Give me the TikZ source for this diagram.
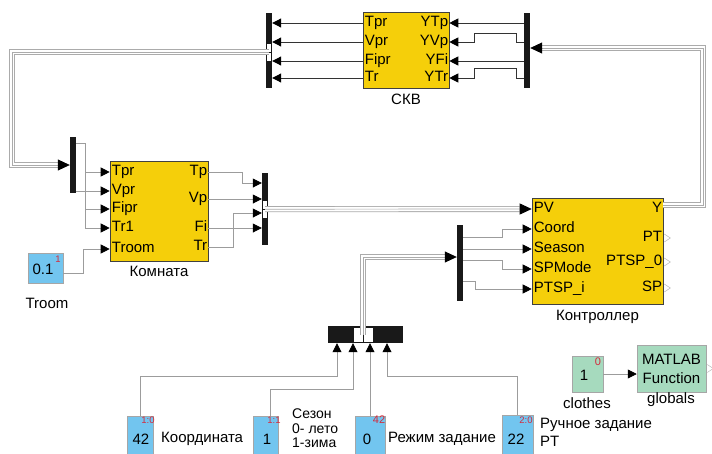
\documentclass[tikz,border=0pt]{standalone}
\usepackage{fontspec}
\setmainfont{Liberation Sans}
\usetikzlibrary{arrows.meta,calc}
\definecolor{SLYellow}{HTML}{F5CF0A}
\definecolor{SLBlue}{HTML}{72C5EF}
\definecolor{SLGreen}{HTML}{A6DABE}
\definecolor{Wire}{HTML}{9C9C9C}
\definecolor{BusGrey}{HTML}{ABABAB}
\definecolor{Tag}{HTML}{D42A3C}
\newcommand{\PortFont}{\fontsize{15}{18}\selectfont}
\newcommand{\TagFont}{\fontsize{9.5}{10}\selectfont}
\tikzset{
  blk/.style={draw=black!75, line width=0.6pt, fill=SLYellow, inner sep=0pt},
  cst/.style={draw=gray!70, line width=0.5pt, fill=SLBlue, inner sep=0pt},
  gcst/.style={cst, fill=SLGreen},
  bar/.style={fill=black!90, inner sep=0pt, minimum width=6pt},
  slot/.style={draw=black!90, line width=0.4pt, fill=white, inner sep=0pt},
  wire/.style={draw=Wire, line width=0.8pt},
  dwire/.style={draw=black!80, line width=1pt},
  tip/.style={-{Triangle[length=9pt,width=9pt,color=black]}},
  bigtip/.style={-{Triangle[length=12pt,width=11pt,color=black]}},
  bus/.style={draw=BusGrey, line width=6pt, line join=miter,
              postaction={draw=white, line width=4.3pt},
              postaction={draw=BusGrey, line width=0.7pt}},
  lbl/.style={font=\PortFont, inner sep=0pt, text height=10.5pt, text depth=3pt},
  multi/.style={font=\PortFont, inner sep=0pt, align=left, anchor=north west},
  tag/.style={font=\TagFont, text=Tag, inner sep=0pt},
  open/.style={draw=gray!55, line width=0.5pt},
}

\begin{document}
\begin{tikzpicture}[x=1pt, y=-1pt]
  \useasboundingbox (0,0) rectangle (712,453);

  % CKB
  \node[blk, minimum width=86pt, minimum height=76pt] (skv) at (406,50) {};
  \node[lbl] (skvname) at (406,101) {СКВ};
  \node[bar, minimum height=75pt] (skvout) at (269,50.5) {};
  \node[bar, minimum height=75pt] (skvin) at (527,50.5) {};
  \node[slot, minimum width=5pt, minimum height=9pt] (skvs1) at (269,47.5) {};
  \node[slot, minimum width=5pt, minimum height=9pt] (skvs2) at (269,56.5) {};
  \foreach \y/\l/\r [count=\i] in {23/Tpr/YTp, 42/Vpr/YVp, 61/Fipr/YFi, 78/Tr/YTr} {
    \coordinate (skvL\i) at (skv.west |- 0,\y);
    \coordinate (skvR\i) at (skv.east |- 0,\y);
    \node[lbl, anchor=west] (skvl\i) at ($(skvL\i)+(2,0)$) {\l};
    \node[lbl, anchor=east] (skvr\i) at ($(skvR\i)+(-1,0)$) {\r};
    \draw[dwire, tip] (skvL\i) -- (skvL\i -| skvout.east);
  }
  \draw[dwire, tip] (skvR1 -| skvin.west) -- (skvR1);
  \draw[dwire, tip] (skvR2 -| skvin.west) -- ++(-7,0) -- ++(0,-9) -- ++(-42,0) -- ++(0,9) -- (skvR2);
  \draw[dwire, tip] (skvR3 -| skvin.west) -- (skvR3);
  \draw[dwire, tip] (skvR4 -| skvin.west) -- ++(-7,0) -- ++(0,-10) -- ++(-42,0) -- ++(0,10) -- (skvR4);

  % room
  \node[blk, minimum width=98pt, minimum height=100pt] (room) at (159,211) {};
  \node[lbl] (roomname) at (159,273) {Комната};
  \foreach \y/\l [count=\i] in {172/Tpr, 191/Vpr, 209/Fipr, 228/Tr1, 249/Troom} {
    \coordinate (roomI\i) at (room.west |- 0,\y);
    \node[lbl, anchor=west] (rooml\i) at ($(roomI\i)+(2,0)$) {\l};
  }
  \foreach \y/\l [count=\i] in {172/Tp, 199/Vp, 228/Fi, 247/Tr} {
    \coordinate (roomO\i) at (room.east |- 0,\y);
    \node[lbl, anchor=east] (roomr\i) at ($(roomO\i)+(-1,0)$) {\l};
  }
  \node[bar, minimum height=56pt] (roomin) at (73,165) {};
  \node[bar, minimum height=72pt] (roomout) at (265,209) {};
  \node[slot, minimum width=5pt, minimum height=9pt] (rms1) at (265,204.5) {};
  \node[slot, minimum width=5pt, minimum height=9pt] (rms2) at (265,213.5) {};
  \foreach \y [count=\i] in {183,199,213,228}
    \coordinate (moutI\i) at (roomout.west |- 0,\y);

  \draw[wire] (roomin.east |- 0,143) -- ++(9,0) coordinate (rsplit) -- (rsplit |- roomI4);
  \foreach \i in {1,3,4}
    \draw[wire, tip] (rsplit |- roomI\i) -- (roomI\i);
  \draw[wire, tip] (roomin.east |- roomI2) -- (roomI2);
  \draw[wire, tip] (roomO1) -- ++(34,0) |- (moutI1);
  \draw[wire, tip] (roomO2) -- (moutI2);
  \draw[wire, tip] (roomO3) -- (moutI4);
  \draw[wire, tip] (roomO4) -- ++(25,0) |- (moutI3);

  \node[cst, minimum width=35pt, minimum height=30pt] (troom) at (45.5,268) {};
  \node[lbl] (troomval) at (43,271) {0.1};
  \node[tag] (troomtag) at (58,259) {1};
  \node[lbl] (troomname) at (47,305) {Troom};
  \draw[wire, tip] ($(troom.east)+(0,5)$) -- ++(20,0) |- (roomI5);

  % controller
  \node[blk, minimum width=131pt, minimum height=106pt] (ctrl) at (597.5,251) {};
  \node[lbl] (ctrlname) at (597.5,317) {Контроллер};
  \foreach \y/\l [count=\i] in {209/PV, 229/Coord, 249/Season, 269/SPMode, 289/PTSP\_i} {
    \coordinate (ctrlI\i) at (ctrl.west |- 0,\y);
    \node[lbl, anchor=west] (ctrll\i) at ($(ctrlI\i)+(2,0)$) {\l};
  }
  \foreach \y/\l [count=\i] in {209/Y, 238/PT, 262/PTSP\_0, 288/SP} {
    \coordinate (ctrlO\i) at (ctrl.east |- 0,\y);
    \node[lbl, anchor=east] (ctrlr\i) at ($(ctrlO\i)+(-1,0)$) {\l};
  }
  \foreach \i in {2,3,4}
    \draw[open] ($(ctrlO\i)+(1,-4)$) -- ++(6,4) -- ++(-6,4);
  \node[bar, minimum height=76pt] (ctrlin) at (460,263) {};
  \draw[wire, tip] (ctrlin.east |- 0,237) -- ++(39,0) |- (ctrlI2);
  \draw[wire, tip] (ctrlin.east |- ctrlI3) -- (ctrlI3);
  \draw[wire, tip] (ctrlin.east |- 0,260) -- ++(39,0) |- (ctrlI4);
  \draw[wire, tip] (ctrlin.east |- 0,281) -- ++(12,0) |- (ctrlI5);

  % bottom mux and constants
  \node[bar, minimum width=75pt, minimum height=17pt] (bmux) at (365.5,334.5) {};
  \node[slot, minimum width=10pt, minimum height=15pt] (bms1) at (358,334.5) {};
  \node[slot, minimum width=10pt, minimum height=15pt] (bms2) at (368,334.5) {};
  \foreach \x [count=\i] in {337,353,370,387}
    \coordinate (bmI\i) at (\x,0 |- bmux.south);

  \node[cst, minimum width=26pt, minimum height=40pt] (kcoord) at (140,436) {};
  \node[lbl] (kcoordval) at (141,441) {42};
  \node[tag] (kcoordtag) at (148,420) {1:0};
  \node[lbl, anchor=west] (kcoordname) at (161,439) {Координата};

  \node[cst, minimum width=25pt, minimum height=40pt] (kseason) at (265.5,436) {};
  \node[lbl] (kseasonval) at (267,441) {1};
  \node[tag] (kseasontag) at (274,420) {1:1};
  \node[multi, font=\fontsize{14}{14.5}\selectfont] (kseasonname) at (292,409) {Сезон\\0- лето\\1-зима};

  \node[cst, minimum width=30pt, minimum height=40pt] (kmode) at (370,436) {};
  \node[lbl] (kmodeval) at (367,441) {0};
  \node[tag, font=\fontsize{11}{12}\selectfont] (kmodetag) at (379,420) {42};
  \node[lbl, anchor=west] (kmodename) at (388,439) {Режим задание};

  \node[cst, minimum width=31pt, minimum height=40pt] (kman) at (517.5,435) {};
  \node[lbl] (kmanval) at (516,441) {22};
  \node[tag] (kmantag) at (526,420) {2:0};
  \node[multi] (kmanname) at (540,418) {Ручное задание\\PT};

  \draw[wire, tip] (kcoord.north) -- ++(0,-39) -| (bmI1);
  \draw[wire, tip] ($(kseason.north)+(4.5,0)$) -- ++(0,-26) -| (bmI2);
  \draw[wire, tip] (kmode.north) -- (bmI3);
  \draw[wire, tip] (kman.north) -- ++(0,-38) -| (bmI4);

  % globals
  \node[gcst, minimum width=31pt, minimum height=36pt] (clothes) at (587.5,374) {};
  \node[lbl] (clothesval) at (584,377) {1};
  \node[tag, font=\fontsize{11}{12}\selectfont] (clothestag) at (598,362) {0};
  \node[lbl] (clothesname) at (587,405) {clothes};
  \node[gcst, minimum width=69pt, minimum height=47pt, font=\fontsize{15}{19}\selectfont, align=center] (mfun) at (671.5,368.5) {MATLAB\\Function};
  \node[lbl] (mfunname) at (671,400) {globals};
  \draw[wire, tip] (clothes.east) -- (mfun.west |- clothes.east);
  \draw[open] ($(mfun.east)+(1,-4)$) -- ++(6,4) -- ++(-6,4);

  % buses
  \coordinate (lbend) at (12,165);
  \coordinate (rbend) at (703,48);
  \coordinate (cdin) at (ctrlin.west |- 0,257);
  \draw[bus] (skvs1.south) -| (lbend) -- ($(roomin.west |- lbend)+(-12,0)$);
  \draw[wire, bigtip] ($(roomin.west |- lbend)+(-12,0)$) -- (roomin.west |- lbend);
  \draw[bus] (rms1.south) -- ($(ctrlI1)+(-12,0)$);
  \draw[wire, bigtip] ($(ctrlI1)+(-12,0)$) -- (ctrlI1);
  \draw[bus] (bms1.east) |- ($(cdin)+(-12,0)$);
  \draw[wire, bigtip] ($(cdin)+(-12,0)$) -- (cdin);
  \draw[bus] ($(ctrlO1)+(0,-4)$) -| (rbend) -- ($(skvin.east |- rbend)+(12,0)$);
  \draw[wire, bigtip] ($(skvin.east |- rbend)+(12,0)$) -- (skvin.east |- rbend);
\end{tikzpicture}
\end{document}
